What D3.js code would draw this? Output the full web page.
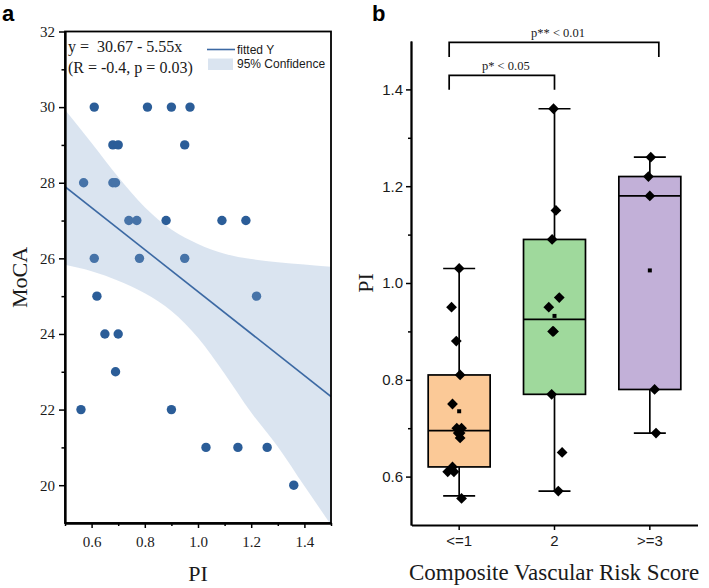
<!DOCTYPE html>
<html>
<head>
<meta charset="utf-8">
<script src="https://cdn.jsdelivr.net/npm/d3@7"></script>
<style>
  body { margin: 0; background: #fff; }
  svg { display: block; }
</style>
</head>
<body>
<div id="chart"></div>
<script>
let w = 709;
let h = 588;
let serif = "'Liberation Serif', 'Times New Roman', serif";
let sans = "'Liberation Sans', Arial, sans-serif";

// ---- panel a data (PI vs MoCA) ----
let piValues   = [0.61, 0.81, 0.90, 0.97, 0.68, 0.70, 0.95, 0.57, 0.68, 0.69,
                  0.74, 0.77, 0.88, 1.09, 1.18, 0.61, 0.78, 0.95, 0.62, 1.22,
                  0.65, 0.70, 0.69, 0.56, 0.90, 1.03, 1.15, 1.26, 1.36];
let mocaValues = [30, 30, 30, 30, 29, 29, 29, 28, 28, 28,
                  27, 27, 27, 27, 27, 26, 26, 26, 25, 25,
                  24, 24, 23, 22, 22, 21, 21, 21, 20];
let fitIntercept = 30.67;
let fitSlope = -5.55;
let bandPI    = [0.5, 0.6, 0.7, 0.8, 0.9, 1.0, 1.1, 1.2, 1.3, 1.4, 1.5];
let bandUpper = [29.93, 29.05, 28.15, 27.35, 26.76, 26.38, 26.12, 25.98, 25.90, 25.84, 25.78];
let bandLower = [25.83, 25.66, 25.41, 25.08, 24.61, 23.90, 22.95, 21.92, 21.02, 19.98, 18.95];
let xTicksA = [0.6, 0.8, 1.0, 1.2, 1.4];
let xMinorA = [0.5, 0.7, 0.9, 1.1, 1.3, 1.5];
let yTicksA = [20, 22, 24, 26, 28, 30, 32];
let yMinorA = [21, 23, 25, 27, 29, 31];

// ---- panel b data (PI by risk score) ----
let groups = ["<=1", "2", ">=3"];
let groupColors = ["#fbc997", "#9fd99c", "#c2b0d8"];
let boxQ1 = [0.62, 0.77, 0.78];
let boxMedian = [0.695, 0.925, 1.18];
let boxQ3 = [0.81, 1.09, 1.22];
let whiskerLow = [0.56, 0.57, 0.69];
let whiskerHigh = [1.03, 1.36, 1.26];
let boxMean = [0.735, 0.932, 1.026];
let groupValues = [
  [1.03, 0.95, 0.88, 0.81, 0.75, 0.70, 0.70, 0.69, 0.69, 0.68, 0.62, 0.61, 0.61, 0.555],
  [1.36, 1.15, 1.09, 0.97, 0.95, 0.90, 0.90, 0.77, 0.65, 0.57],
  [1.26, 1.22, 1.18, 0.78, 0.69]
];
// horizontal jitter as a fraction of the band width
let groupJitter = [
  [0, -0.08, -0.03, 0.01, -0.07, -0.025, 0.025, -0.01, 0.01, 0.01, -0.07, -0.12, -0.055, 0.025],
  [-0.01, 0.015, -0.025, 0.05, -0.06, -0.02, -0.01, -0.03, 0.08, 0.04],
  [0.01, -0.015, 0, 0.05, 0.065]
];
let yTicksB = [0.6, 0.8, 1.0, 1.2, 1.4];
let yMinorB = [0.7, 0.9, 1.1, 1.3];
let comparisons = [
  { from: 0, to: 2, label: "p** < 0.01", level: 1.497 },
  { from: 0, to: 1, label: "p* < 0.05", level: 1.429 }
];

let svg = d3.select("#chart")
  .append("svg")
  .attr("width", w)
  .attr("height", h)
  .attr("viewBox", "0 0 " + w + " " + h);

// ================= panel a =================
let a = { left: 65, right: 331, top: 31.5, bottom: 523 };

let xA = d3.scaleLinear().domain([0.5, 1.5]).range([a.left, a.right]);
let yA = d3.scaleLinear().domain([19, 32]).range([a.bottom, a.top]);

svg.append("clipPath").attr("id", "clipA")
  .append("rect")
  .attr("x", a.left).attr("y", a.top)
  .attr("width", a.right - a.left).attr("height", a.bottom - a.top);

let plotA = svg.append("g").attr("clip-path", "url(#clipA)");

plotA.selectAll("circle")
  .data(piValues)
  .join("circle")
  .attr("cx", d => xA(d))
  .attr("cy", (d, i) => yA(mocaValues[i]))
  .attr("r", 4.7)
  .attr("fill", "#2b5d98");

let bandData = bandPI.map((p, i) => ({ p: p, lo: bandLower[i], hi: bandUpper[i] }));
let area = d3.area()
  .x(d => xA(d.p))
  .y0(d => yA(d.lo))
  .y1(d => yA(d.hi))
  .curve(d3.curveMonotoneX);

plotA.append("path")
  .datum(bandData)
  .attr("d", area)
  .attr("fill", "rgb(132,165,205)")
  .attr("fill-opacity", 0.3);

let fitLine = d3.line().x(d => xA(d)).y(d => yA(fitIntercept + fitSlope * d));
plotA.append("path")
  .datum(xA.domain())
  .attr("d", fitLine)
  .attr("fill", "none")
  .attr("stroke", "#3c69a3")
  .attr("stroke-width", 1.6);

// frame
svg.append("rect")
  .attr("x", a.left).attr("y", a.top)
  .attr("width", a.right - a.left).attr("height", a.bottom - a.top)
  .attr("fill", "none")
  .attr("stroke", "#000")
  .attr("stroke-width", 1.8);

function styleAxis(g, font, size) {
  g.attr("font-family", font).attr("font-size", size);
  g.selectAll("text").attr("fill", "#1a1a1a");
  g.selectAll("line").attr("stroke", "#000").attr("stroke-width", 1.5);
  g.select(".domain").attr("stroke", "#000").attr("stroke-width", 1.8);
}

svg.append("g")
  .attr("transform", "translate(0," + a.bottom + ")")
  .call(d3.axisBottom(xA).tickValues(xTicksA).tickSize(5).tickSizeOuter(0).tickPadding(8).tickFormat(d3.format(".1f")))
  .call(g => styleAxis(g, serif, 15));
svg.append("g")
  .attr("transform", "translate(0," + a.bottom + ")")
  .call(d3.axisBottom(xA).tickValues(xMinorA).tickSize(3).tickSizeOuter(0).tickFormat(""))
  .call(g => styleAxis(g, serif, 15));

svg.append("g")
  .attr("transform", "translate(" + a.left + ",0)")
  .call(d3.axisLeft(yA).tickValues(yTicksA).tickSize(6).tickSizeOuter(0).tickPadding(4))
  .call(g => styleAxis(g, serif, 15));
svg.append("g")
  .attr("transform", "translate(" + a.left + ",0)")
  .call(d3.axisLeft(yA).tickValues(yMinorA).tickSize(3.5).tickSizeOuter(0).tickFormat(""))
  .call(g => styleAxis(g, serif, 15));

// equation + legend
svg.append("text")
  .attr("x", 68).attr("y", 52)
  .attr("font-family", serif).attr("font-size", 16)
  .style("white-space", "pre")
  .attr("fill", "#1a1a1a")
  .text("y =  " + fitIntercept.toFixed(2) + " - " + Math.abs(fitSlope).toFixed(2) + "x");
svg.append("text")
  .attr("x", 68).attr("y", 73)
  .attr("font-family", serif).attr("font-size", 16)
  .attr("fill", "#1a1a1a")
  .text("(R = -0.4, p = 0.03)");

svg.append("line")
  .attr("x1", 207).attr("x2", 235).attr("y1", 49.5).attr("y2", 49.5)
  .attr("stroke", "#3c69a3").attr("stroke-width", 1.6);
svg.append("text")
  .attr("x", 237).attr("y", 53.5)
  .attr("font-family", sans).attr("font-size", 12).attr("fill", "#1a1a1a")
  .text("fitted Y");
svg.append("rect")
  .attr("x", 208).attr("y", 58.5).attr("width", 25).attr("height", 11.5)
  .attr("fill", "rgb(132,165,205)").attr("fill-opacity", 0.3);
svg.append("text")
  .attr("x", 237).attr("y", 68)
  .attr("font-family", sans).attr("font-size", 12).attr("fill", "#1a1a1a")
  .text("95% Confidence");

svg.append("text")
  .attr("transform", "translate(26.5,277.5) rotate(-90)")
  .attr("text-anchor", "middle")
  .attr("font-family", serif).attr("font-size", 22).attr("fill", "#1a1a1a")
  .text("MoCA");
svg.append("text")
  .attr("x", (a.left + a.right) / 2).attr("y", 581)
  .attr("text-anchor", "middle")
  .attr("font-family", serif).attr("font-size", 22).attr("fill", "#1a1a1a")
  .text("PI");

svg.append("text")
  .attr("x", 2).attr("y", 21)
  .attr("font-family", sans).attr("font-weight", "bold").attr("font-size", 22)
  .text("a");

// ================= panel b =================
let b = { left: 411, right: 698, top: 41, bottom: 525 };

let xB = d3.scaleBand().domain(groups).range([b.left + 0.5, b.right - 0.5]);
let yB = d3.scaleLinear().domain([0.5, 1.5]).range([b.bottom, b.top]);
let bw = xB.bandwidth();
let boxW = bw * 0.65;
let capW = 32;
let cx = g => xB(g) + bw / 2;

let boxes = svg.append("g");
groups.forEach((g, i) => {
  let c = cx(g);
  // whiskers
  boxes.append("line")
    .attr("x1", c).attr("x2", c)
    .attr("y1", yB(boxQ3[i])).attr("y2", yB(whiskerHigh[i]))
    .attr("stroke", "#000").attr("stroke-width", 1.7);
  boxes.append("line")
    .attr("x1", c).attr("x2", c)
    .attr("y1", yB(boxQ1[i])).attr("y2", yB(whiskerLow[i]))
    .attr("stroke", "#000").attr("stroke-width", 1.7);
  [whiskerHigh[i], whiskerLow[i]].forEach(v => {
    boxes.append("line")
      .attr("x1", c - capW / 2).attr("x2", c + capW / 2)
      .attr("y1", yB(v)).attr("y2", yB(v))
      .attr("stroke", "#000").attr("stroke-width", 1.7);
  });
  boxes.append("rect")
    .attr("x", c - boxW / 2)
    .attr("y", yB(boxQ3[i]))
    .attr("width", boxW)
    .attr("height", yB(boxQ1[i]) - yB(boxQ3[i]))
    .attr("fill", groupColors[i])
    .attr("stroke", "#000").attr("stroke-width", 1.7);
  boxes.append("line")
    .attr("x1", c - boxW / 2).attr("x2", c + boxW / 2)
    .attr("y1", yB(boxMedian[i])).attr("y2", yB(boxMedian[i]))
    .attr("stroke", "#000").attr("stroke-width", 1.7);
  boxes.append("path")
    .attr("d", d3.symbol(d3.symbolSquare, 16)())
    .attr("transform", "translate(" + c + "," + yB(boxMean[i]) + ")")
    .attr("fill", "#000");
  // raw points
  boxes.selectAll(".pt" + i)
    .data(groupValues[i])
    .join("path")
    .attr("class", "pt" + i)
    .attr("d", d3.symbol(d3.symbolSquare, 58)())
    .attr("transform", (d, j) => "translate(" + (c + groupJitter[i][j] * bw) + "," + yB(d) + ") rotate(45)")
    .attr("fill", "#000");
});

svg.append("g")
  .attr("transform", "translate(0," + b.bottom + ")")
  .call(d3.axisBottom(xB).tickSize(5).tickSizeOuter(0).tickPadding(5))
  .call(g => styleAxis(g, sans, 15));

svg.append("g")
  .attr("transform", "translate(" + b.left + ",0)")
  .call(d3.axisLeft(yB).tickValues(yTicksB).tickSize(5).tickSizeOuter(0).tickPadding(3).tickFormat(d3.format(".1f")))
  .call(g => styleAxis(g, sans, 15));
svg.append("g")
  .attr("transform", "translate(" + b.left + ",0)")
  .call(d3.axisLeft(yB).tickValues(yMinorB).tickSize(3).tickSizeOuter(0).tickFormat(""))
  .call(g => styleAxis(g, sans, 15));

// significance brackets
let legNudge = [-10, 0, 9];
comparisons.forEach(cmp => {
  let x1 = cx(groups[cmp.from]) + legNudge[cmp.from];
  let x2 = cx(groups[cmp.to]) + legNudge[cmp.to];
  let y0 = yB(cmp.level);
  svg.append("path")
    .attr("d", "M" + x1 + "," + (y0 + 14.5) + "V" + y0 + "H" + x2 + "V" + (y0 + 14.5))
    .attr("fill", "none")
    .attr("stroke", "#000").attr("stroke-width", 1.7);
  svg.append("text")
    .attr("x", (x1 + x2) / 2 + 4).attr("y", y0 - 5)
    .attr("text-anchor", "middle")
    .attr("font-family", serif).attr("font-size", 12.5).attr("fill", "#1a1a1a")
    .text(cmp.label);
});

svg.append("text")
  .attr("transform", "translate(373," + yB(1.0) + ") rotate(-90)")
  .attr("text-anchor", "middle")
  .attr("font-family", serif).attr("font-size", 22).attr("fill", "#1a1a1a")
  .text("PI");
svg.append("text")
  .attr("x", 409).attr("y", 580)
  .attr("font-family", serif).attr("font-size", 23).attr("fill", "#1a1a1a")
  .text("Composite Vascular Risk Score");

svg.append("text")
  .attr("x", 372).attr("y", 21)
  .attr("font-family", sans).attr("font-weight", "bold").attr("font-size", 22)
  .text("b");
</script>
</body>
</html>
